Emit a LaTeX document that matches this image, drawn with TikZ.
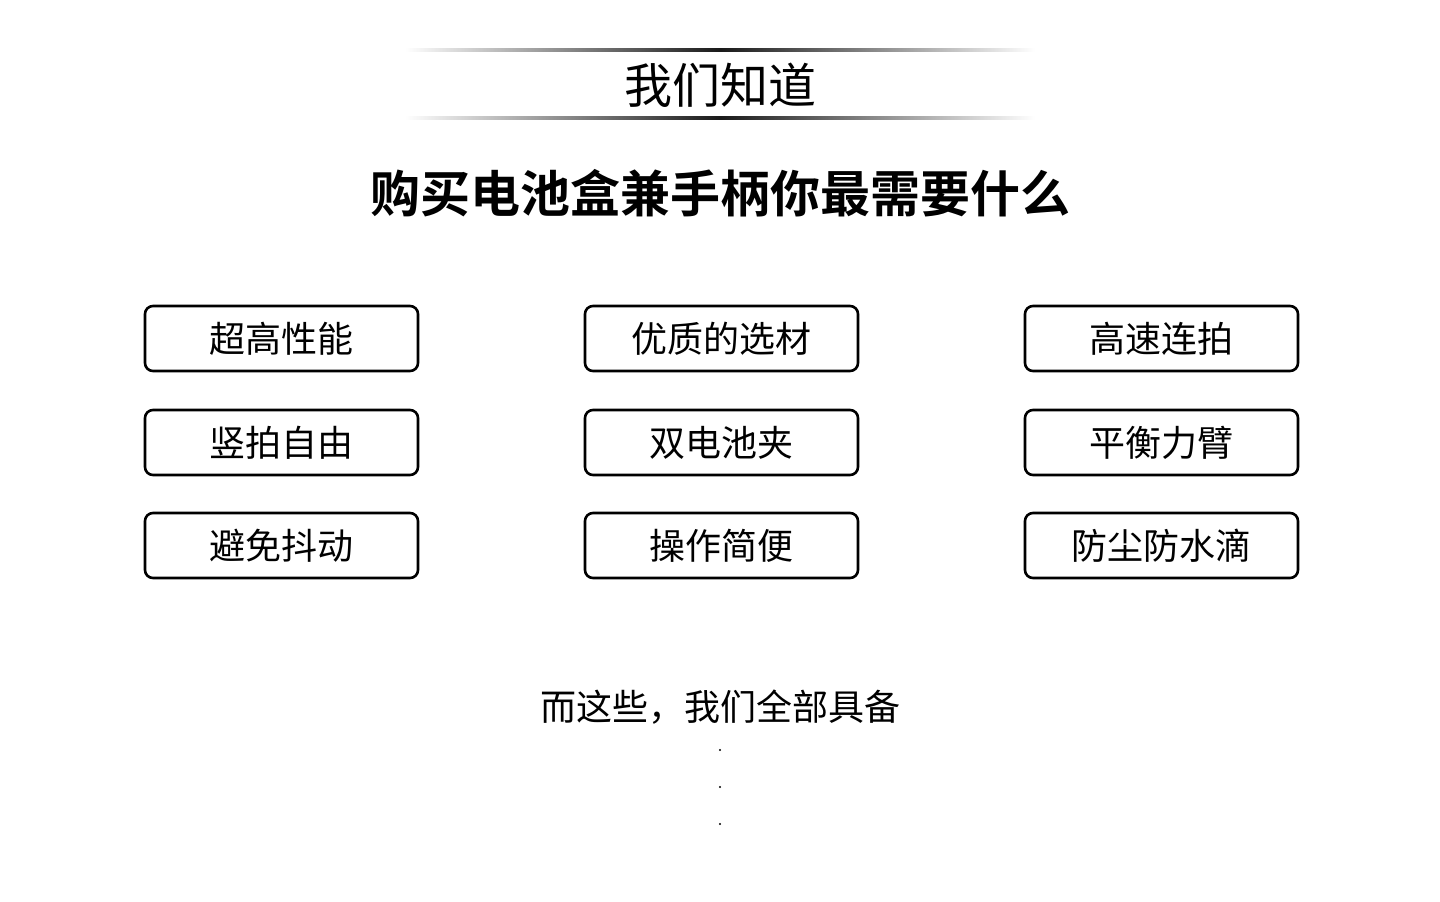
\documentclass[tikz,border=0pt]{standalone}
\usepackage{fontspec}
\newfontfamily\cjk{Noto Sans CJK SC}
\newfontfamily\cjkbold{Noto Sans CJK SC Bold}

\tikzset{
  featbox/.style={draw=black, line width=1.3pt, rounded corners=4pt,
    minimum width=136.5pt, minimum height=32.5pt, font=\cjk\fontsize{18}{20}\selectfont}
}

\begin{document}
\begin{tikzpicture}[x=0.5pt,y=-0.5pt]
  \useasboundingbox (0,0) rectangle (1440,901);
  % fading rules above and below the title
  \foreach \y in {50,118}{
    \fill[left color=white, right color=black!90] (405,\y-1.5) rectangle (720,\y+1.5);
    \fill[left color=black!90, right color=white] (720,\y-1.5) rectangle (1035,\y+1.5);
  }
  \node[font=\cjk\fontsize{24}{26}\selectfont] (title) at (720,85) {我们知道};
  \node[font=\cjkbold\fontsize{25}{27}\selectfont] (question) at (720,193) {购买电池盒兼手柄你最需要什么};

  % feature boxes
  \node[featbox] (perf)   at (281.5,338.5) {超高性能};
  \node[featbox] (mater)  at (721.5,338.5) {优质的选材};
  \node[featbox] (burst)  at (1161.5,338.5) {高速连拍};
  \node[featbox] (vert)   at (281.5,442.5) {竖拍自由};
  \node[featbox] (dual)   at (721.5,442.5) {双电池夹};
  \node[featbox] (arm)    at (1161.5,442.5) {平衡力臂};
  \node[featbox] (shake)  at (281.5,545.5) {避免抖动};
  \node[featbox] (easy)   at (721.5,545.5) {操作简便};
  \node[featbox] (dust)   at (1161.5,545.5) {防尘防水滴};

  \node[font=\cjk\fontsize{18}{20}\selectfont] (answer) at (720,707) {而这些，我们全部具备};
  \foreach \y in {750,787,824}
    \fill (720,\y) circle (1.2);
\end{tikzpicture}
\end{document}
